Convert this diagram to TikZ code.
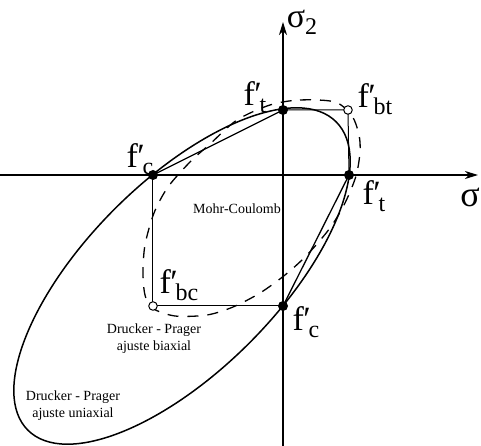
\documentclass[tikz,border=0pt]{standalone}
\usepackage{fontspec}
\setmainfont{Liberation Serif}
\usetikzlibrary{arrows.meta}

% f' with a lowered index
\newcommand{\fsub}[1]{f\kern-0.02em′\kern-0.06em\raisebox{-0.22em}{\fontsize{24}{24}\selectfont #1}}

\begin{document}
\begin{tikzpicture}[
    x=1pt, y=1pt,
    axis/.style={line width=1.4pt, -{Stealth[length=13pt,width=8pt,inset=4pt]}},
    mcline/.style={line width=1.3pt},
    mcsquare/.style={line width=1pt},
    dpuni/.style={line width=1.5pt},
    dpbi/.style={line width=1.3pt, dash pattern=on 11pt off 9pt},
    dot/.style={circle, fill=black, inner sep=0pt, minimum size=10pt},
    odot/.style={circle, draw=black, fill=white, line width=1pt, inner sep=0pt, minimum size=8.5pt},
    flabel/.style={font=\fontsize{34}{34}\selectfont, inner sep=0pt},
    note/.style={font=\fontsize{14}{17}\selectfont, align=center, inner sep=0pt}
]
\useasboundingbox (-283,-271) rectangle (198,175);

% Axes
\coordinate (xl) at (-283,0);
\coordinate (xr) at (195,0);
\coordinate (yb) at (0,-271);
\coordinate (yt) at (0,153);
\draw[axis] (xl) -- (xr);
\draw[axis] (yb) -- (yt);

% Strength points
\coordinate (Ft) at (0,65);
\coordinate (Fbt) at (65,65);
\coordinate (Ftx) at (66,0);
\coordinate (Fc) at (-130,0);
\coordinate (Fbc) at (-130,-131);
\coordinate (Fcy) at (0,-131);

% Mohr-Coulomb
\draw[mcsquare] (Ft) -- (Fbt) -- (Ftx);
\draw[mcsquare] (Fcy) -- (Fbc) -- (Fc);
\draw[mcline] (Fc) -- (Ft);
\draw[mcline] (Ftx) -- (Fcy);

% Drucker - Prager, uniaxial fit
\draw[dpuni, rotate around={45:(-101,-101)}] (-101,-101) ellipse [x radius=218, y radius=95];

% Drucker - Prager, biaxial fit
\draw[dpbi] plot[smooth cycle] coordinates {
    (-13,70) (17,75) (52,73) (69,59) (76,40) (77,23) (73,-1) (62,-28)
    (47,-53) (24,-80) (2,-100) (-23,-118) (-50,-132) (-76,-140) (-108,-141)
    (-131,-133) (-138,-120) (-140,-98) (-138,-70) (-129,-38) (-115,-12)
    (-93,13) (-73,31) (-46,55)};

% Points
\node[dot] (ft) at (Ft) {};
\node[dot] (ftx) at (Ftx) {};
\node[dot] (fc) at (Fc) {};
\node[dot] (fcy) at (Fcy) {};
\node[odot] (fbt) at (Fbt) {};
\node[odot] (fbc) at (Fbc) {};

% Labels
\node[flabel] (lft) at (-28,78) {\fsub{t}};
\node[flabel] (lfbt) at (92,76) {\fsub{bt}};
\node[flabel] (lftx) at (91,-21) {\fsub{t}};
\node[flabel] (lfc) at (-143,16) {\fsub{c}};
\node[flabel] (lfbc) at (-104,-110) {\fsub{bc}};
\node[flabel] (lfcy) at (23,-147) {\fsub{c}};
\node[flabel, font=\fontsize{36}{36}\selectfont] (lsig) at (187,-22) {σ};
\node[flabel, font=\fontsize{34}{34}\selectfont] (lsig2) at (19,153) {σ\raisebox{-0.2em}{\fontsize{24}{24}\selectfont 2}};

% Curve names
\node[note] (tmc) at (-46,-34) {Mohr-Coulomb};
\node[note] (tbi) at (-129,-164) {Drucker - Prager\\ajuste biaxial};
\node[note] (tuni) at (-210,-231) {Drucker - Prager\\ajuste uniaxial};

\end{tikzpicture}
\end{document}
